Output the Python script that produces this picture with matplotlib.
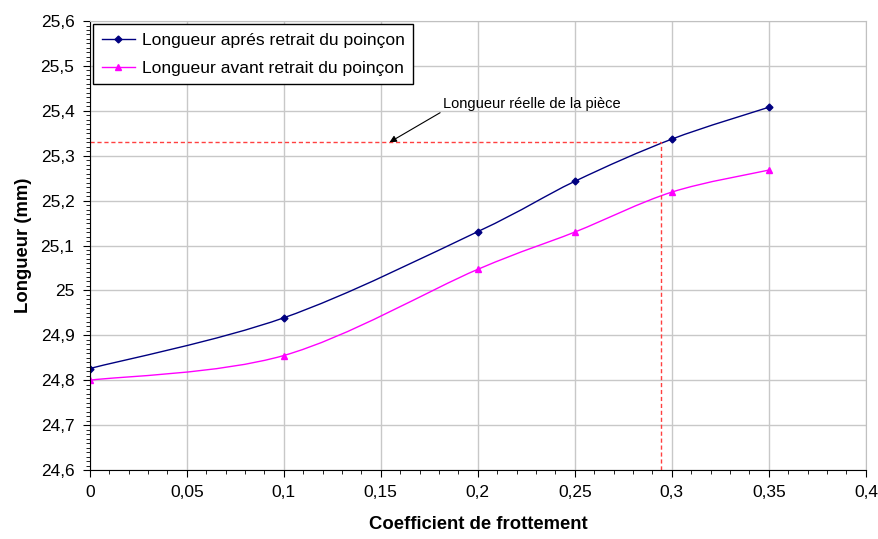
import numpy as np
import matplotlib
matplotlib.use("Agg")
import matplotlib.pyplot as plt
from matplotlib.path import Path
from matplotlib.patches import PathPatch
from matplotlib.ticker import FuncFormatter, MultipleLocator

plt.rcParams['font.family'] = ['Liberation Sans', 'DejaVu Sans']

coef = [0, 0.1, 0.2, 0.25, 0.3, 0.35]
apres = [24.826, 24.939, 25.131, 25.243, 25.337, 25.408]
avant = [24.800, 24.855, 25.047, 25.130, 25.219, 25.268]
longueur_reelle = 25.33
coef_reel = 0.2945


def smooth_path(xs, ys):
    # Bezier path through the points, like Excel's smoothed line
    p = np.column_stack([xs, ys])
    verts = [p[0]]
    codes = [Path.MOVETO]
    n = len(p)
    for i in range(n - 1):
        p0 = p[i - 1] if i > 0 else p[i]
        p3 = p[i + 2] if i + 2 < n else p[i + 1]
        c1 = p[i] + (p[i + 1] - p0) / 6
        c2 = p[i + 1] - (p3 - p[i]) / 6
        verts += [c1, c2, p[i + 1]]
        codes += [Path.CURVE4] * 3
    return Path(verts, codes)


def fmt(v, pos):
    s = ('%.2f' % v).rstrip('0').rstrip('.')
    return s.replace('.', ',')


fig = plt.figure(figsize=(8.79, 5.39), dpi=100)
ax = fig.add_axes([0.1021, 0.128, 0.883, 0.833])

ax.add_patch(PathPatch(smooth_path(coef, apres), fill=False, edgecolor='#000080', lw=1.0))
ax.add_patch(PathPatch(smooth_path(coef, avant), fill=False, edgecolor='#ff00ff', lw=1.0))
ax.plot(coef, apres, ls='none', marker='D', ms=3.5, color='#000080',
        label=u'Longueur aprés retrait du poinçon')
ax.plot(coef, avant, ls='none', marker='^', ms=4.5, color='#ff00ff',
        label=u'Longueur avant retrait du poinçon')

# reference line
ax.plot([0, coef_reel], [longueur_reelle, longueur_reelle], ls=(0, (3, 2)), color='#ff4040', lw=1)
ax.plot([coef_reel, coef_reel], [24.6, longueur_reelle], ls=(0, (3, 2)), color='#ff4040', lw=1)
ax.annotate(u'Longueur réelle de la pièce', xy=(0.1545, longueur_reelle),
            xytext=(0.182, 25.415), fontsize=10.5, va='center', ha='left',
            arrowprops=dict(arrowstyle='-|>', color='black', lw=0.8,
                            shrinkA=0, shrinkB=0, mutation_scale=10,
                            relpos=(0, 0)))

ax.set_xlim(0, 0.4)
ax.set_ylim(24.6, 25.6)
ax.xaxis.set_major_locator(MultipleLocator(0.05))
ax.xaxis.set_minor_locator(MultipleLocator(0.01))
ax.yaxis.set_major_locator(MultipleLocator(0.1))
ax.yaxis.set_minor_locator(MultipleLocator(0.01))
ax.xaxis.set_major_formatter(FuncFormatter(fmt))
ax.yaxis.set_major_formatter(FuncFormatter(fmt))
ax.tick_params(which='major', direction='out', length=5, labelsize=12.5, pad=6)
ax.tick_params(which='minor', direction='out', length=3)
ax.grid(True, which='major', color='#c8c8c8', lw=1)
ax.set_axisbelow(True)
for s in ['top', 'right']:
    ax.spines[s].set_color('#c0c0c0')

ax.set_xlabel('Coefficient de frottement', fontsize=13.3, fontweight='bold', labelpad=11)
ax.set_ylabel('Longueur (mm)', fontsize=13.3, fontweight='bold', labelpad=6)

leg = ax.legend(loc='upper left', bbox_to_anchor=(0.004, 0.993), borderaxespad=0,
                fontsize=12.6, frameon=True, fancybox=False, edgecolor='black',
                framealpha=1, handlelength=1.9, handletextpad=0.4,
                borderpad=0.5, labelspacing=0.7)
leg.get_frame().set_linewidth(1)
for h in leg.legend_handles:
    h.set_linestyle('-')
    h.set_linewidth(1)

fig.savefig('out.png', dpi=100)
